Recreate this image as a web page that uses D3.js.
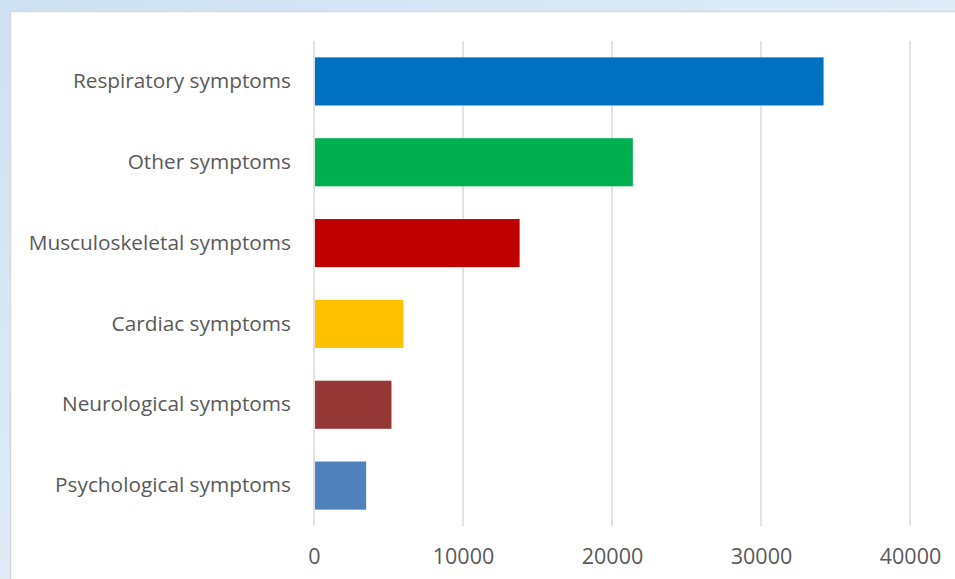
<!DOCTYPE html>
<html><head><meta charset="utf-8">
<script src="https://cdn.jsdelivr.net/npm/d3@7"></script>
<style>html,body{margin:0;padding:0;overflow:hidden;background:#d8e7f5;}</style>
</head><body>
<svg id="c" width="955" height="579"></svg>
<script>
const categories = ["Respiratory symptoms","Other symptoms","Musculoskeletal symptoms","Cardiac symptoms","Neurological symptoms","Psychological symptoms"];
const values = [34200, 21400, 13800, 6000, 5200, 3500];
const colors = ["#0070C0","#00B050","#C00000","#FFC000","#953735","#4F81BD"];
const tickValues = [0, 10000, 20000, 30000, 40000];

const svg = d3.select("#c");
// textured light-blue background
const defs = svg.append("defs");
const g = defs.append("linearGradient").attr("id","bg").attr("x1","0").attr("y1","0").attr("x2","1").attr("y2","1");
g.append("stop").attr("offset","0").attr("stop-color","#cde1f3");
g.append("stop").attr("offset","0.5").attr("stop-color","#deecf8");
g.append("stop").attr("offset","1").attr("stop-color","#cfe3f4");
svg.append("rect").attr("width",955).attr("height",579).attr("fill","url(#bg)");
svg.append("rect").attr("x",10.5).attr("y",11.5).attr("width",960).attr("height",600)
  .attr("fill","#ffffff").attr("stroke","#d9d9d9").attr("stroke-width",1.5);

const x = d3.scaleLinear().domain([0,40000]).range([314,910]);
const y = d3.scaleBand().domain(categories).range([41,526]).paddingInner(0.405).paddingOuter(0.2025);

// gridlines
svg.append("g").selectAll("line").data(tickValues).join("line")
  .attr("x1",d=>x(d)).attr("x2",d=>x(d)).attr("y1",41).attr("y2",526)
  .attr("stroke","#d9d9d9").attr("stroke-width",1.5);

svg.append("g").selectAll("rect").data(categories).join("rect")
  .attr("x",x(0)+1).attr("y",d=>y(d)).attr("height",y.bandwidth())
  .attr("width",(d,i)=>x(values[i])-x(0)-1).attr("fill",(d,i)=>colors[i]);

const font = "'Open Sans', sans-serif";
// category labels
const ya = d3.axisLeft(y).tickSize(0).tickPadding(0);
const yg = svg.append("g").attr("transform","translate(291,0)").call(ya);
yg.select(".domain").remove();
yg.selectAll("text").attr("font-family",font).attr("font-size",20.8).attr("fill","#595959");

// x tick labels
const xa = d3.axisBottom(x).tickValues(tickValues).tickFormat(d3.format("d")).tickSize(0).tickPadding(0);
const xg = svg.append("g").attr("transform","translate(0,556)").call(xa);
xg.select(".domain").remove();
xg.selectAll("text").attr("dy","0.35em").attr("font-family",font).attr("font-size",21.5).attr("fill","#595959");
</script>
</body></html>
